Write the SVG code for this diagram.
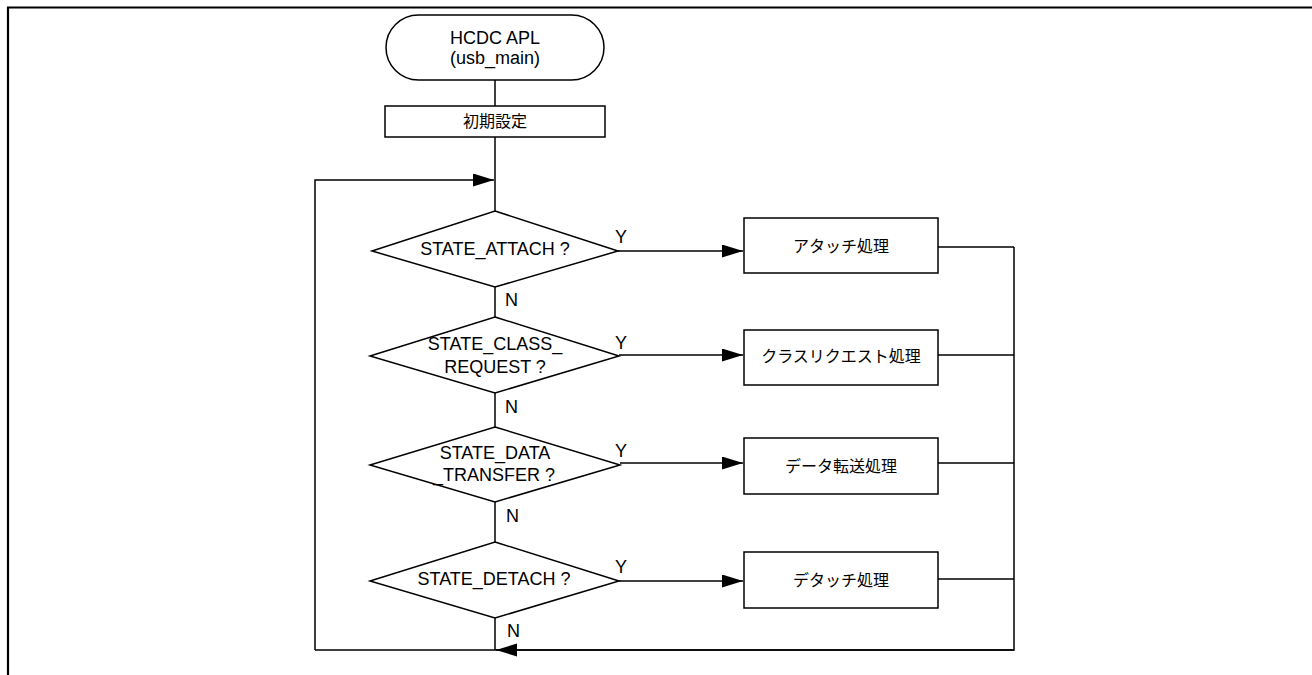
<svg xmlns="http://www.w3.org/2000/svg" width="1312" height="675" viewBox="0 0 1312 675">
<style>
.s{fill:#fff;stroke:#000;stroke-width:1.5}
.c{fill:none;stroke:#000;stroke-width:1.5}
.t{font-family:"Liberation Sans",Arial,sans-serif;font-size:18px;fill:#000}
.j{font-family:"Noto Sans CJK JP","Liberation Sans",sans-serif;font-size:16px;fill:#000}
.m{text-anchor:middle}
</style>
<defs>
<marker id="ah" markerUnits="userSpaceOnUse" markerWidth="22" markerHeight="14" refX="21" refY="6.5" orient="auto">
<path d="M0,0 L21,6.5 L0,13 Z" fill="#000"/>
</marker>
</defs>
<rect width="1312" height="675" fill="#fff"/>
<path d="M8,675 V7.5 H1312" fill="none" stroke="#000" stroke-width="2.2"/>

<g id="connectors">
<path class="c" d="M495,80 V106"/>
<path class="c" d="M495,137 V211"/>
<path class="c" d="M315,650 V180 H494" marker-end="url(#ah)"/>
<path class="c" d="M495,287 V317"/>
<path class="c" d="M495,393 V427"/>
<path class="c" d="M495,502 V542"/>
<path class="c" d="M495,618 V650"/>
<path class="c" d="M618,251 H743" marker-end="url(#ah)"/>
<path class="c" d="M619,355 H743" marker-end="url(#ah)"/>
<path class="c" d="M620,463 H743" marker-end="url(#ah)"/>
<path class="c" d="M619,581 H743" marker-end="url(#ah)"/>
<path class="c" d="M938,247 H1014 M938,355 H1014 M938,463 H1014 M938,579 H1014"/>
<path class="c" d="M1014,247 V650 H315"/>
<path class="c" d="M1014,650 H496" marker-end="url(#ah)"/>
<text class="t" x="615" y="243">Y</text>
<text class="t" x="615" y="349">Y</text>
<text class="t" x="615" y="457">Y</text>
<text class="t" x="615" y="573">Y</text>
<text class="t" x="505" y="306">N</text>
<text class="t" x="505" y="413">N</text>
<text class="t" x="506" y="522">N</text>
<text class="t" x="507" y="637">N</text>
</g>

<g id="start">
<rect class="s" x="386" y="15" width="218" height="65" rx="32.5" ry="32.5"/>
<text class="t m" x="495" y="44">HCDC APL</text>
<text class="t m" x="495" y="64">(usb_main)</text>
</g>

<g id="init">
<rect class="s" x="385" y="106" width="220" height="31"/>
<text class="j m" x="495" y="127" font-size="17.5">初期設定</text>
</g>

<g id="d_attach">
<polygon class="s" points="495,211 618,251 495,287 372,251"/>
<text class="t m" x="495" y="255">STATE_ATTACH ?</text>
</g>

<g id="d_class">
<polygon class="s" points="495,317 619,356 495,393 370,356"/>
<text class="t m" x="495" y="350">STATE_CLASS_</text>
<text class="t m" x="495" y="373">REQUEST ?</text>
</g>

<g id="d_data">
<polygon class="s" points="495,427 620,465 495,502 370,465"/>
<text class="t m" x="495" y="459">STATE_DATA</text>
<text class="t m" x="494" y="481">_TRANSFER ?</text>
</g>

<g id="d_detach">
<polygon class="s" points="495,542 619,581 495,618 370,581"/>
<text class="t m" x="494" y="585">STATE_DETACH ?</text>
</g>

<g id="p_attach">
<rect class="s" x="744" y="218" width="194" height="55"/>
<text class="j m" x="841" y="252">アタッチ処理</text>
</g>

<g id="p_class">
<rect class="s" x="744" y="330" width="194" height="55"/>
<text class="j m" x="841" y="362" font-size="15.4">クラスリクエスト処理</text>
</g>

<g id="p_data">
<rect class="s" x="744" y="438" width="194" height="56"/>
<text class="j m" x="841" y="472" font-size="17">データ転送処理</text>
</g>

<g id="p_detach">
<rect class="s" x="744" y="552" width="194" height="56"/>
<text class="j m" x="841" y="586">デタッチ処理</text>
</g>
</svg>
